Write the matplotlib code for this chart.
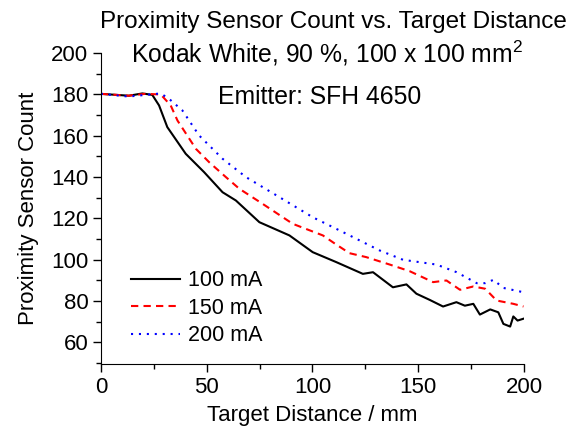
import matplotlib
matplotlib.use('Agg')
import matplotlib.pyplot as plt
from matplotlib.ticker import MultipleLocator

plt.rcParams['font.family'] = ['Liberation Sans', 'DejaVu Sans']
plt.rcParams['mathtext.fontset'] = 'custom'
plt.rcParams['mathtext.rm'] = 'Liberation Sans'

# readings
x100 = [0, 13.3, 19.6, 24.3, 27.5, 31.4, 40.1, 48.8, 57.5, 63.8, 74.9, 89.1, 100.1, 111.2,
        123.8, 128.6, 138, 144.4, 149.1, 155.4, 161.7, 168, 172, 176, 179.1, 184, 187.8,
        190.2, 193.4, 194.9, 196.9, 199.7]
y100 = [180.3, 179.4, 180.5, 179.8, 174.7, 164.2, 151.3, 142.4, 132.7, 128.7, 118.2, 111.8,
        103.7, 98.9, 93.2, 94.0, 86.7, 88.1, 83.6, 80.6, 77.4, 79.5, 77.8, 78.7, 73.5, 76.0,
        74.6, 69.0, 67.7, 72.6, 70.6, 71.5]

x150 = [0, 13, 21, 28.3, 33, 36.2, 44.9, 51.2, 59.1, 65.4, 76.4, 90.7, 104.9, 111.2, 117.5,
        125.4, 136.5, 145.9, 157, 163.3, 169.7, 176, 181.6, 187, 194.9, 199.7]
y150 = [180.3, 179.4, 180.3, 180.0, 174.7, 167.4, 153.7, 147.2, 140.0, 134.4, 127.1, 117.4,
        111.8, 107.4, 103.2, 101.3, 97.7, 94.5, 89.2, 90.0, 85.5, 87.1, 86.0, 80.3, 78.7, 77.4]

x200 = [0, 13, 28.3, 32.2, 38.5, 46.4, 57.5, 68.6, 84.4, 100.1, 114.4, 131.8, 142.8, 158.6,
        168.1, 177.6, 181.6, 185.5, 190.2, 199.7]
y200 = [180.3, 179.0, 180.5, 177.9, 172.3, 160.2, 148.9, 140.0, 130.3, 120.6, 113.4, 104.5,
        100.0, 97.7, 94.0, 88.7, 88.7, 90.3, 86.4, 84.3]

fig = plt.figure(figsize=(5.83, 4.32), dpi=100)
ax = fig.add_axes([0.173, 0.157, 0.726, 0.72])

ax.plot(x100, y100, color='black', lw=1.5, label='100 mA')
ax.plot(x150, y150, color='red', lw=1.5, ls=(0, (3.5, 2.5)), label='150 mA')
ax.plot(x200, y200, color='blue', lw=1.5, ls=(0, (1, 2.8)), label='200 mA')

ax.set_xlim(0, 200)
ax.set_ylim(49.5, 200)
ax.xaxis.set_major_locator(MultipleLocator(50))
ax.xaxis.set_minor_locator(MultipleLocator(25))
ax.yaxis.set_minor_locator(MultipleLocator(10))
ax.set_yticks(range(60, 201, 20))
ax.spines['top'].set_visible(False)
ax.spines['right'].set_visible(False)
ax.tick_params(which='major', direction='out', length=6, width=1, labelsize=16, pad=3)
ax.tick_params(which='minor', direction='out', length=3.5, width=1)

ax.set_xlabel('Target Distance / mm', fontsize=16, labelpad=5)
ax.set_ylabel('Proximity Sensor Count', fontsize=16, labelpad=9)

fig.text(0.572, 0.95, 'Proximity Sensor Count vs. Target Distance', fontsize=17.5,
         ha='center', va='center')
ax.text(0.535, 1.0, 'Kodak White, 90 %, 100 x 100 mm$^2$', transform=ax.transAxes,
        fontsize=17.8, ha='center', va='center')
ax.text(0.517, 0.86, 'Emitter: SFH 4650', transform=ax.transAxes,
        fontsize=17.8, ha='center', va='center')

ax.legend(loc='lower left', bbox_to_anchor=(0.025, -0.005), frameon=False, fontsize=15.5,
          handlelength=2.3, handletextpad=0.35, labelspacing=0.3)

fig.savefig('out.png', dpi=100)
